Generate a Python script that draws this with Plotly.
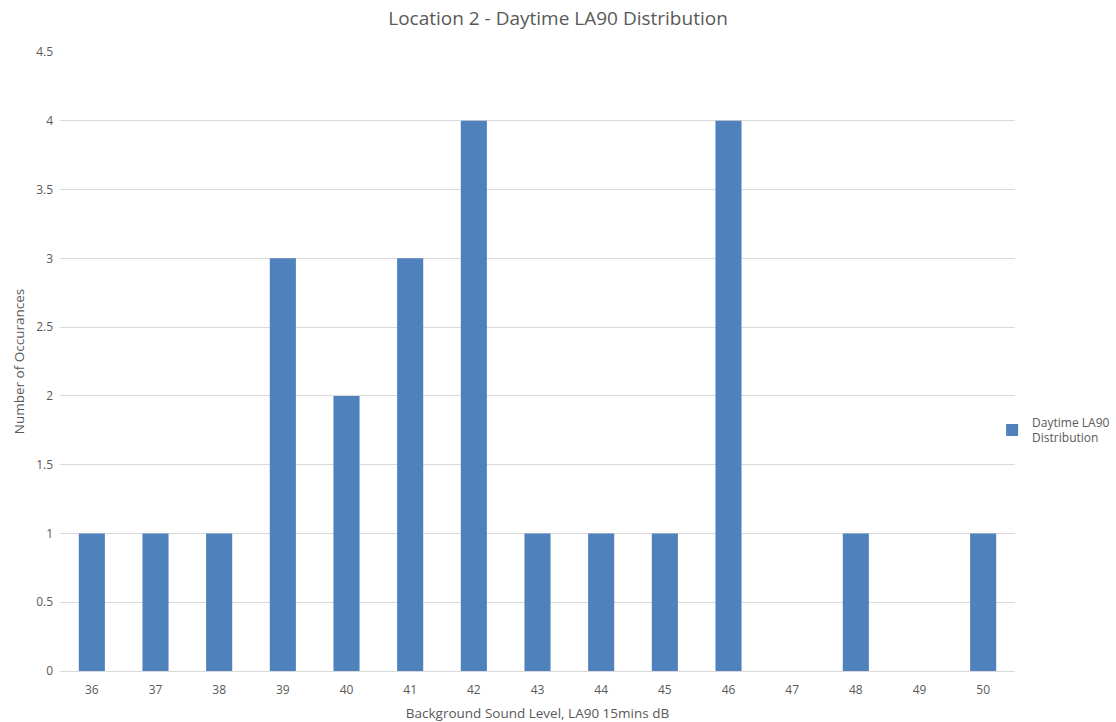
import plotly.graph_objects as go

# Background sound level bins (dB) and counts of 15-minute periods
levels = ["36", "37", "38", "39", "40", "41", "42", "43", "44", "45", "46", "47", "48", "49", "50"]
occurrences = [1, 1, 1, 3, 2, 3, 4, 1, 1, 1, 4, 0, 1, 0, 1]
y_ticks = [0, 0.5, 1, 1.5, 2, 2.5, 3, 3.5, 4, 4.5]

text_grey = "#595959"
bar_blue = "#4F81BD"
font_family = "Open Sans, Noto Sans, sans-serif"

fig = go.Figure()
fig.add_trace(go.Bar(
    x=levels,
    y=occurrences,
    name="Daytime LA90<br>Distribution",
    marker=dict(color=bar_blue, line=dict(width=0)),
))

fig.update_layout(
    width=1116,
    height=722,
    paper_bgcolor="white",
    plot_bgcolor="white",
    margin=dict(l=60, r=101, t=52, b=51, autoexpand=False),
    bargap=0.59,
    font=dict(family=font_family, color=text_grey, size=12),
    title=dict(
        text="Location 2 - Daytime LA90 Distribution",
        x=0.5, xref="container", xanchor="center", y=0.974, yanchor="middle",
        font=dict(size=19, color=text_grey, family=font_family),
    ),
    showlegend=True,
    legend=dict(
        xref="container", yref="container",
        x=0.889, xanchor="left", y=0.404, yanchor="middle",
        font=dict(size=12, color=text_grey),
        bgcolor="rgba(0,0,0,0)",
        itemwidth=30,
    ),
    xaxis=dict(
        type="category",
        automargin=False,
        title=dict(text="Background Sound Level, LA90 15mins dB",
                   font=dict(size=13.5, color=text_grey), standoff=14),
        showgrid=False,
        showline=True, linecolor="#D9D9D9", linewidth=1,
        ticks="", tickfont=dict(size=12, color=text_grey),
        ticklabelstandoff=8,
    ),
    yaxis=dict(
        range=[0, 4.5],
        automargin=False,
        tickvals=y_ticks,
        ticktext=[f"{v:g}" for v in y_ticks],
        showgrid=True, gridcolor="#D9D9D9", gridwidth=1,
        zeroline=False, showline=False,
        ticks="", tickfont=dict(size=12, color=text_grey),
        ticklabelstandoff=6,
        title=dict(text="Number of Occurances",
                   font=dict(size=13.5, color=text_grey), standoff=8),
    ),
)

fig.write_html("out.html")
